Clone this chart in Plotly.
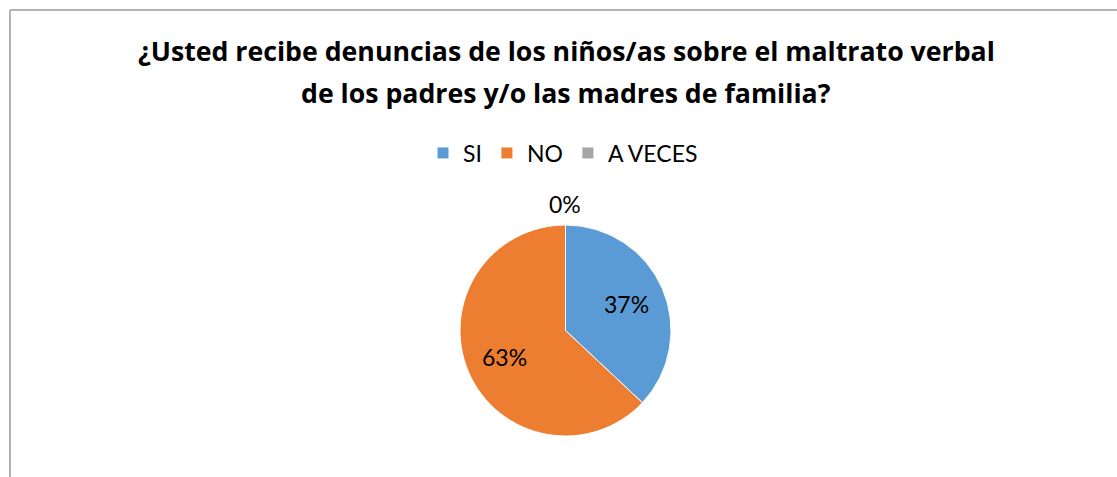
import math
import plotly.graph_objects as go

categories = ["SI", "NO", "A VECES"]
values = [37, 63, 0]
colors = ["#5B9BD5", "#ED7D31", "#A5A5A5"]
title_lines = ["¿Usted recibe denuncias de los niños/as sobre el maltrato verbal",
               "de los padres y/o las madres de familia?"]

W, H = 1117, 477
total = sum(values)
FONT = "Lato"
TFONT = "Open Sans"

# pie geometry (pixels)
CX, CY, R = 565.5, 330.5, 105.5

fig = go.Figure()
fig.add_trace(go.Pie(
    labels=categories, values=values, sort=False, direction="clockwise", rotation=0,
    marker=dict(colors=colors, line=dict(color="white", width=1)),
    textinfo="none",
    hoverinfo="label+percent",
    domain=dict(x=[(CX - R) / W, (CX + R) / W], y=[1 - (CY + R) / H, 1 - (CY - R) / H]),
    showlegend=True,
))

# data labels placed like Excel's best-fit: along each slice's mid-angle
cum = 0.0
for v in values:
    frac = v / total
    mid = (cum + frac / 2) * 2 * math.pi
    cum += frac
    rr = 0.63 * R if v > 0 else R + 21
    px = CX + rr * math.sin(mid)
    py = CY - rr * math.cos(mid)
    fig.add_annotation(
        x=px / W, y=1 - py / H, xref="paper", yref="paper",
        text=f"{frac:.0%}", showarrow=False,
        xanchor="center", yanchor="middle",
        font=dict(family=FONT, size=23, color="#000000"),
    )

title_y = [51, 93]
for line, ty in zip(title_lines, title_y):
    fig.add_annotation(
        x=566 / W, y=1 - ty / H, xref="paper", yref="paper",
        text="<b>" + line + "</b>", showarrow=False,
        font=dict(family=TFONT, size=26.7, color="#000000"),
        yanchor="middle", xanchor="center",
    )

# chart frame
fig.add_shape(type="line", xref="paper", yref="paper",
              x0=10 / W, x1=1.01, y0=1 - 10 / H, y1=1 - 10 / H,
              line=dict(color="#9A9A9A", width=1.5))
fig.add_shape(type="line", xref="paper", yref="paper",
              x0=10 / W, x1=10 / W, y0=1 - 10 / H, y1=-0.01,
              line=dict(color="#9A9A9A", width=1.5))

fig.update_layout(
    width=W, height=H,
    margin=dict(l=0, r=0, t=0, b=0),
    paper_bgcolor="white", plot_bgcolor="white",
    legend=dict(orientation="h", x=563 / W, xanchor="center", y=1 - 153 / H, yanchor="middle",
                font=dict(family=FONT, size=23, color="#000000"),
                traceorder="normal", itemwidth=30),
)

fig.write_html("out.html", config={"displayModeBar": False},
               post_script="document.body.style.margin='0';document.body.style.overflow='hidden';")
